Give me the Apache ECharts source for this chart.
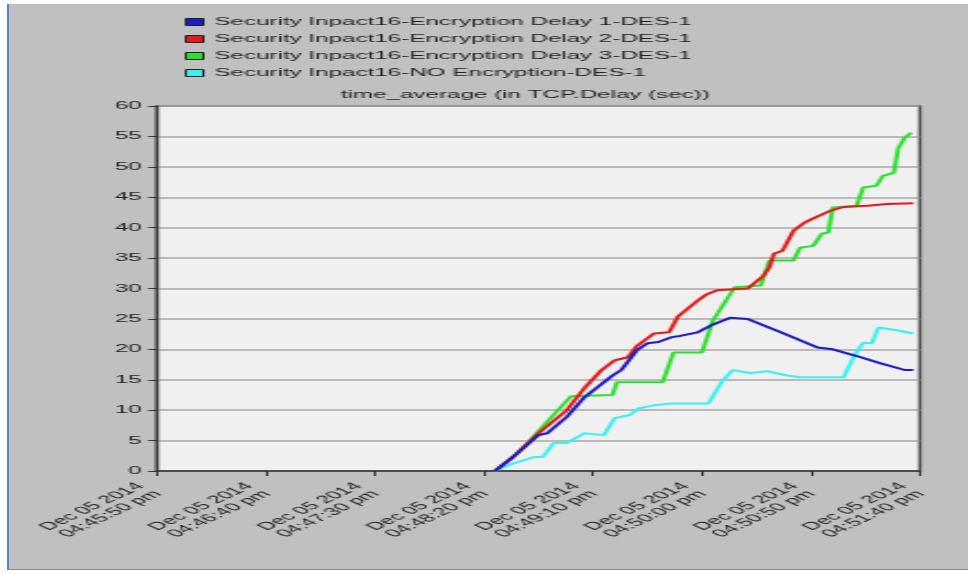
<!DOCTYPE html>
<html>
<head>
<meta charset="utf-8">
<title>time_average (in TCP.Delay (sec))</title>
<script src="https://cdn.jsdelivr.net/npm/echarts@6.0.0/dist/echarts.min.js"></script>
<style>
html, body { margin: 0; padding: 0; background: #fff; width: 974px; height: 574px; overflow: hidden; }
#frame {
  position: absolute; left: 7px; top: 4px; width: 959px; height: 565px;
  background: #c0c0c0; border-left: 2px solid #4f86d6; border-bottom: 1px solid #8a8a8a;
}
/* the source picture is a screenshot stretched ~2.2x sideways, so the chart is drawn narrow and widened */
#chart-container {
  position: absolute; left: 0; top: 0; width: 443px; height: 574px;
  transform: scaleX(2.1986); transform-origin: 0 0;
}
</style>
</head>
<body>
<div id="frame"></div>
<div id="chart-container"></div>
<script>
// x = seconds after Dec 05 2014 04:45:50 pm, y = delay (sec)
var seriesNames = [
  "Security Inpact16-Encryption Delay 1-DES-1",
  "Security Inpact16-Encryption Delay 2-DES-1",
  "Security Inpact16-Encryption Delay 3-DES-1",
  "Security Inpact16-NO Encryption-DES-1"
];

var xTickLabels = [
  "04:45:50 pm", "04:46:40 pm", "04:47:30 pm", "04:48:20 pm",
  "04:49:10 pm", "04:50:00 pm", "04:50:50 pm", "04:51:40 pm"
];

var delay1 = [
  [155, 0], [163, 2.2], [175, 5.9], [179, 6.2], [188, 8.9], [196, 12.1], [209, 15.7],
  [213, 16.6], [220, 19.8], [225, 21], [230, 21.2], [236, 22], [240, 22.2], [248, 22.8],
  [254, 23.9], [263, 25.2], [271, 25], [287, 22.7], [303, 20.3], [310, 20], [321, 18.9],
  [332, 17.7], [343, 16.6], [347, 16.6]
];

var delay2 = [
  [155, 0], [163, 2.2], [175, 6.2], [188, 10], [196, 13.6], [204, 16.6], [210, 18.2],
  [216, 18.7], [220, 20.5], [228, 22.6], [235, 22.8], [239, 25.4], [248, 28], [252, 29],
  [257, 29.7], [271, 30], [278, 32], [281, 33.5], [283, 35.7], [287, 36.2], [292, 39.5],
  [297, 40.8], [301, 41.5], [309, 42.8], [315, 43.4], [326, 43.6], [335, 43.9], [347, 44]
];

var delay3 = [
  [155, 0], [164, 2.5], [171, 5], [180, 8.5], [190, 12.3], [209, 12.5], [211, 14.6],
  [232, 14.6], [237, 19.5], [250, 19.5], [255, 24.7], [265, 30.2], [277, 30.5], [281, 34.6],
  [292, 34.6], [295, 36.7], [301, 37], [305, 39], [308, 39.2], [310, 43.3], [321, 43.6],
  [324, 46.6], [330, 46.9], [333, 48.5], [338, 49], [340, 53], [343, 54.8], [346, 55.6]
];

var noEncryption = [
  [155, 0], [164, 1.3], [173, 2.3], [177, 2.3], [182, 4.6], [188, 4.6], [196, 6.2],
  [205, 5.9], [210, 8.7], [217, 9.2], [221, 10.3], [228, 10.8], [236, 11.1], [253, 11.1],
  [259, 14.6], [264, 16.6], [266, 16.7], [272, 16.1], [280, 16.4], [289, 15.7], [295, 15.4],
  [315, 15.4], [320, 19], [324, 21.1], [328, 21], [331, 23.6], [333, 23.9], [340, 23.1],
  [347, 22.6]
];

var colors = ["#1c1cc4", "#e21a1a", "#2ee02e", "#3ff0f0"];
var font = "Liberation Sans, Arial, sans-serif";

var dom = document.getElementById("chart-container");
var myChart = echarts.init(dom, null, { renderer: "canvas" });

var option = {
  animation: false,
  textStyle: { fontFamily: font },
  title: {
    text: "time_average (in TCP.Delay (sec))",
    left: 155,
    top: 89,
    padding: 0,
    textStyle: { fontSize: 11, fontWeight: "normal", color: "#222", fontFamily: font }
  },
  legend: {
    orient: "vertical",
    left: 84,
    top: 16,
    padding: 0,
    itemWidth: 8,
    itemHeight: 7,
    itemGap: 5,
    icon: "rect",
    data: seriesNames,
    itemStyle: { borderColor: "#222", borderWidth: 1 },
    textStyle: { fontSize: 11, lineHeight: 12, color: "#222", fontFamily: font }
  },
  grid: {
    left: 71.4,
    right: 24.6,
    top: 106,
    bottom: 103,
    show: true,
    backgroundColor: "#f0f0f0",
    borderColor: "#4a4a4a",
    borderWidth: 1.5
  },
  xAxis: {
    type: "value",
    min: 0,
    max: 350,
    interval: 50,
    axisLine: { show: true, lineStyle: { color: "#333", width: 1.5 } },
    axisTick: { show: true, length: 5, lineStyle: { color: "#333", width: 1 } },
    splitLine: { show: false },
    axisLabel: {
      rotate: 45,
      margin: 14,
      padding: [0, 5, 0, 0],
      fontSize: 11,
      color: "#222",
      fontFamily: font,
      formatter: function (v) {
        return "Dec 05 2014\n" + xTickLabels[Math.round(v / 50)];
      }
    }
  },
  yAxis: {
    type: "value",
    min: 0,
    max: 60,
    interval: 5,
    axisLine: { show: true, lineStyle: { color: "#333", width: 1.3 } },
    axisTick: { show: true, length: 4, lineStyle: { color: "#333", width: 1 } },
    splitLine: { show: true, lineStyle: { color: "#a9a9a9", width: 1.6 } },
    axisLabel: { margin: 7, fontSize: 11, color: "#222", fontFamily: font }
  },
  series: [
    { name: seriesNames[2], type: "line", data: delay3, symbol: "none", color: colors[2], lineStyle: { width: 2 } },
    { name: seriesNames[3], type: "line", data: noEncryption, symbol: "none", color: colors[3], lineStyle: { width: 2 } },
    { name: seriesNames[1], type: "line", data: delay2, symbol: "none", color: colors[1], lineStyle: { width: 2 } },
    { name: seriesNames[0], type: "line", data: delay1, symbol: "none", color: colors[0], lineStyle: { width: 2 } }
  ]
};

myChart.setOption(option);
</script>
</body>
</html>
